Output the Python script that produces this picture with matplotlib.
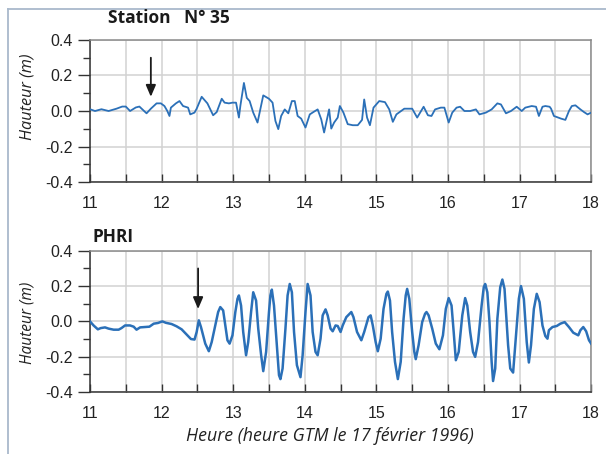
import matplotlib
matplotlib.use("Agg")
import matplotlib.pyplot as plt
from matplotlib.lines import Line2D
from matplotlib.ticker import MultipleLocator

# Station N° 35 (hours GMT, height in m)
st35_t = [11.00, 11.07, 11.16, 11.26, 11.37, 11.45, 11.50, 11.56, 11.64, 11.69,
          11.79, 11.85, 11.93, 11.99, 12.04, 12.08, 12.11, 12.13, 12.20, 12.25,
          12.30, 12.37, 12.40, 12.46, 12.49, 12.56, 12.64, 12.72, 12.77, 12.84,
          12.88, 12.94, 12.99, 13.04, 13.08, 13.10, 13.15, 13.19, 13.23, 13.28,
          13.34, 13.42, 13.50, 13.55, 13.59, 13.63, 13.67, 13.72, 13.77, 13.82,
          13.86, 13.90, 13.95, 14.01, 14.07, 14.12, 14.18, 14.23, 14.27, 14.30,
          14.34, 14.37, 14.41, 14.46, 14.49, 14.54, 14.60, 14.67, 14.74, 14.80,
          14.83, 14.87, 14.91, 14.96, 15.04, 15.12, 15.18, 15.23, 15.28, 15.39,
          15.50, 15.57, 15.66, 15.72, 15.77, 15.82, 15.90, 15.95, 16.01, 16.06,
          16.12, 16.17, 16.23, 16.31, 16.39, 16.44, 16.53, 16.61, 16.69, 16.74,
          16.81, 16.88, 16.96, 17.03, 17.08, 17.17, 17.23, 17.27, 17.32, 17.36,
          17.42, 17.44, 17.48, 17.58, 17.64, 17.69, 17.73, 17.78, 17.85, 17.90,
          17.95, 18.00]
st35_h = [0.010, 0.000, 0.010, 0.000, 0.013, 0.025, 0.025, 0.000, 0.020, 0.025,
          -0.013, 0.013, 0.043, 0.043, 0.028, 0.000, -0.028, 0.019, 0.043, 0.056,
          0.028, 0.019, -0.019, -0.009, 0.013, 0.080, 0.043, -0.024, -0.006, 0.069,
          0.047, 0.043, 0.047, 0.047, -0.037, 0.028, 0.158, 0.074, 0.056, -0.009,
          -0.065, 0.088, 0.069, 0.047, -0.056, -0.102, -0.028, 0.009, -0.013, 0.056,
          0.056, -0.028, -0.043, -0.093, -0.019, -0.006, 0.009, -0.047, -0.121, -0.065,
          0.009, -0.099, -0.065, -0.037, 0.028, -0.009, -0.074, -0.080, -0.080, -0.050,
          0.065, -0.037, -0.080, 0.019, 0.056, 0.050, 0.009, -0.061, -0.019, 0.013,
          0.013, -0.037, 0.024, -0.024, -0.028, 0.009, 0.019, 0.019, -0.065, -0.009,
          0.019, 0.024, 0.000, 0.000, 0.009, -0.019, -0.009, 0.009, 0.043, 0.037,
          -0.013, 0.000, 0.024, 0.000, 0.019, 0.028, 0.024, -0.028, 0.024, 0.028,
          0.024, 0.013, -0.028, -0.043, -0.050, 0.000, 0.028, 0.032, 0.009, -0.006,
          -0.019, -0.009]

# PHRI
phri_t = [11.00, 11.05, 11.11, 11.15, 11.21, 11.26, 11.33, 11.40, 11.44, 11.49,
          11.56, 11.61, 11.65, 11.70, 11.77, 11.83, 11.89, 11.95, 12.01, 12.06,
          12.14, 12.21, 12.28, 12.35, 12.41, 12.46, 12.49, 12.52, 12.55, 12.61,
          12.66, 12.70, 12.75, 12.79, 12.82, 12.86, 12.89, 12.92, 12.95, 12.99,
          13.03, 13.06, 13.08, 13.11, 13.14, 13.18, 13.21, 13.25, 13.28, 13.32,
          13.35, 13.39, 13.42, 13.46, 13.50, 13.52, 13.54, 13.57, 13.61, 13.64,
          13.66, 13.69, 13.73, 13.76, 13.79, 13.82, 13.85, 13.89, 13.94, 13.97,
          14.01, 14.04, 14.08, 14.11, 14.15, 14.18, 14.22, 14.25, 14.29, 14.32,
          14.36, 14.39, 14.43, 14.46, 14.50, 14.53, 14.58, 14.65, 14.68, 14.73,
          14.79, 14.83, 14.89, 14.92, 14.95, 14.99, 15.02, 15.06, 15.10, 15.14,
          15.16, 15.19, 15.22, 15.26, 15.30, 15.34, 15.38, 15.41, 15.43, 15.46,
          15.50, 15.53, 15.55, 15.59, 15.64, 15.68, 15.70, 15.73, 15.78, 15.83,
          15.88, 15.93, 15.97, 16.01, 16.05, 16.08, 16.11, 16.15, 16.20, 16.24,
          16.27, 16.31, 16.35, 16.38, 16.42, 16.47, 16.50, 16.52, 16.55, 16.58,
          16.61, 16.63, 16.66, 16.69, 16.73, 16.76, 16.79, 16.84, 16.87, 16.91,
          16.94, 16.99, 17.02, 17.06, 17.10, 17.13, 17.16, 17.20, 17.24, 17.28,
          17.32, 17.36, 17.39, 17.41, 17.46, 17.52, 17.57, 17.63, 17.69, 17.75,
          17.82, 17.85, 17.89, 17.93, 17.97, 18.00]
phri_h = [0.000, -0.023, -0.045, -0.038, -0.034, -0.041, -0.047, -0.047, -0.038, -0.023,
          -0.023, -0.030, -0.047, -0.034, -0.032, -0.030, -0.013, -0.009, 0.000, -0.008,
          -0.015, -0.028, -0.045, -0.075, -0.100, -0.103, -0.060, 0.006, -0.032, -0.126,
          -0.169, -0.117, -0.023, 0.053, 0.081, 0.062, -0.023, -0.107, -0.126, -0.079,
          0.053, 0.128, 0.147, 0.090, -0.060, -0.192, -0.117, 0.053, 0.165, 0.118,
          -0.041, -0.190, -0.282, -0.173, 0.053, 0.147, 0.180, 0.090, -0.135, -0.305,
          -0.327, -0.267, -0.041, 0.147, 0.212, 0.165, -0.060, -0.248, -0.316, -0.192,
          0.053, 0.212, 0.147, -0.060, -0.173, -0.192, -0.098, 0.034, 0.068, 0.034,
          -0.041, -0.056, -0.023, -0.026, -0.060, -0.023, 0.024, 0.053, 0.024, -0.060,
          -0.107, -0.060, 0.024, 0.034, -0.023, -0.117, -0.169, -0.098, 0.071, 0.156,
          0.169, 0.118, -0.060, -0.229, -0.327, -0.229, 0.015, 0.147, 0.184, 0.128,
          -0.060, -0.173, -0.214, -0.135, -0.004, 0.043, 0.053, 0.034, -0.041, -0.126,
          -0.158, -0.079, 0.071, 0.132, 0.090, -0.060, -0.220, -0.173, 0.034, 0.132,
          0.090, -0.060, -0.173, -0.201, -0.117, 0.090, 0.194, 0.212, 0.165, -0.004,
          -0.229, -0.338, -0.267, 0.015, 0.194, 0.237, 0.184, -0.135, -0.267, -0.290,
          -0.135, 0.128, 0.200, 0.128, -0.117, -0.233, -0.135, 0.071, 0.156, 0.109,
          -0.023, -0.083, -0.098, -0.050, -0.032, -0.026, -0.013, -0.004, -0.032, -0.064,
          -0.079, -0.050, -0.032, -0.056, -0.107, -0.126]

# arrival arrows (hour, top, tip)
arrow_35 = (11.85, 0.30, 0.08)
arrow_phri = (12.51, 0.30, 0.07)

panel_names = ["Station   N° 35", "PHRI"]
ylabel = "Hauteur (m)"
xlabel = "Heure (heure GTM le 17 février 1996)"

line_col = "#2b70b8"
grid_col = "#d2d2d2"
tick_font = "Liberation Sans"
text_font = "Open Sans"

fig = plt.figure(figsize=(6.06, 4.54), dpi=100)
ax1 = fig.add_axes([0.1485, 0.599, 0.827, 0.313])
ax2 = fig.add_axes([0.1485, 0.1366, 0.827, 0.311])


def style_axis(ax, ylab_size, ylab_y):
    ax.set_xlim(11, 18)
    ax.set_ylim(-0.4, 0.4)
    ax.xaxis.set_major_locator(MultipleLocator(1))
    ax.xaxis.set_minor_locator(MultipleLocator(0.5))
    ax.yaxis.set_major_locator(MultipleLocator(0.2))
    ax.yaxis.set_minor_locator(MultipleLocator(0.1))
    ax.grid(True, which="both", axis="x", color=grid_col, lw=1.1, zorder=0)
    ax.grid(True, which="major", axis="y", color=grid_col, lw=1.1, zorder=0)
    ax.tick_params(axis="x", which="both", direction="in", length=6, width=1.0,
                   color="#333333", pad=10, labelsize=11.5)
    ax.tick_params(axis="y", which="major", direction="out", length=8.5, width=1.0,
                   color="#333333", pad=4, labelsize=11.5)
    ax.tick_params(axis="y", which="minor", direction="out", length=5, width=1.0,
                   color="#333333")
    ax.set_yticks([-0.4, -0.2, 0.0, 0.2, 0.4])
    ax.set_yticklabels(["-0.4", "-0.2", "0.0", "0.2", "0.4"])
    for lab in ax.get_xticklabels() + ax.get_yticklabels():
        lab.set_fontfamily(tick_font)
        lab.set_color("#222222")
    for side in ["left", "bottom"]:
        ax.spines[side].set_color("#333333")
        ax.spines[side].set_linewidth(1.1)
    for side in ["top", "right"]:
        ax.spines[side].set_color("#8a8a8a")
        ax.spines[side].set_linewidth(1.1)
    ax.set_ylabel(ylabel, fontfamily=text_font, fontstyle="italic", fontsize=ylab_size,
                  color="#222222")
    ax.yaxis.set_label_coords(-0.108, ylab_y)
    ax.set_axisbelow(True)


style_axis(ax1, 11.7, 0.60)
style_axis(ax2, 11.2, 0.49)

ax1.plot(st35_t, st35_h, color=line_col, lw=1.3, zorder=3, solid_joinstyle="round")
ax2.plot(phri_t, phri_h, color=line_col, lw=1.8, zorder=3, solid_joinstyle="round")

for ax, (at, atop, atip) in [(ax1, arrow_35), (ax2, arrow_phri)]:
    ax.annotate("", xy=(at, atip), xytext=(at, atop),
                arrowprops=dict(arrowstyle="-|>,head_width=0.3,head_length=0.7",
                                color="#1a1a1a", lw=1.3, shrinkA=0, shrinkB=0),
                zorder=4)

ax2.set_xlabel(xlabel, fontfamily=text_font, fontstyle="italic", fontsize=12.8,
               color="#222222")
ax2.xaxis.set_label_coords(0.478, -0.25)

fig.text(108 / 606, 1 - 18 / 454, panel_names[0], fontfamily=text_font,
         fontweight="bold", fontsize=12.5, ha="left", va="center", color="#1a1a1a")
fig.text(93 / 606, 1 - 237 / 454, panel_names[1], fontfamily=text_font,
         fontweight="bold", fontsize=12.5, ha="left", va="center", color="#1a1a1a")

# light frame around the figure (left and top edges)
frame_col = "#a9b9cc"
fig.add_artist(Line2D([8 / 606, 8 / 606], [0, 1 - 9 / 454], color=frame_col,
                      lw=1.3, transform=fig.transFigure))
fig.add_artist(Line2D([8 / 606, 1], [1 - 9 / 454, 1 - 9 / 454], color=frame_col,
                      lw=1.3, transform=fig.transFigure))

fig.savefig("out.png", dpi=100)
